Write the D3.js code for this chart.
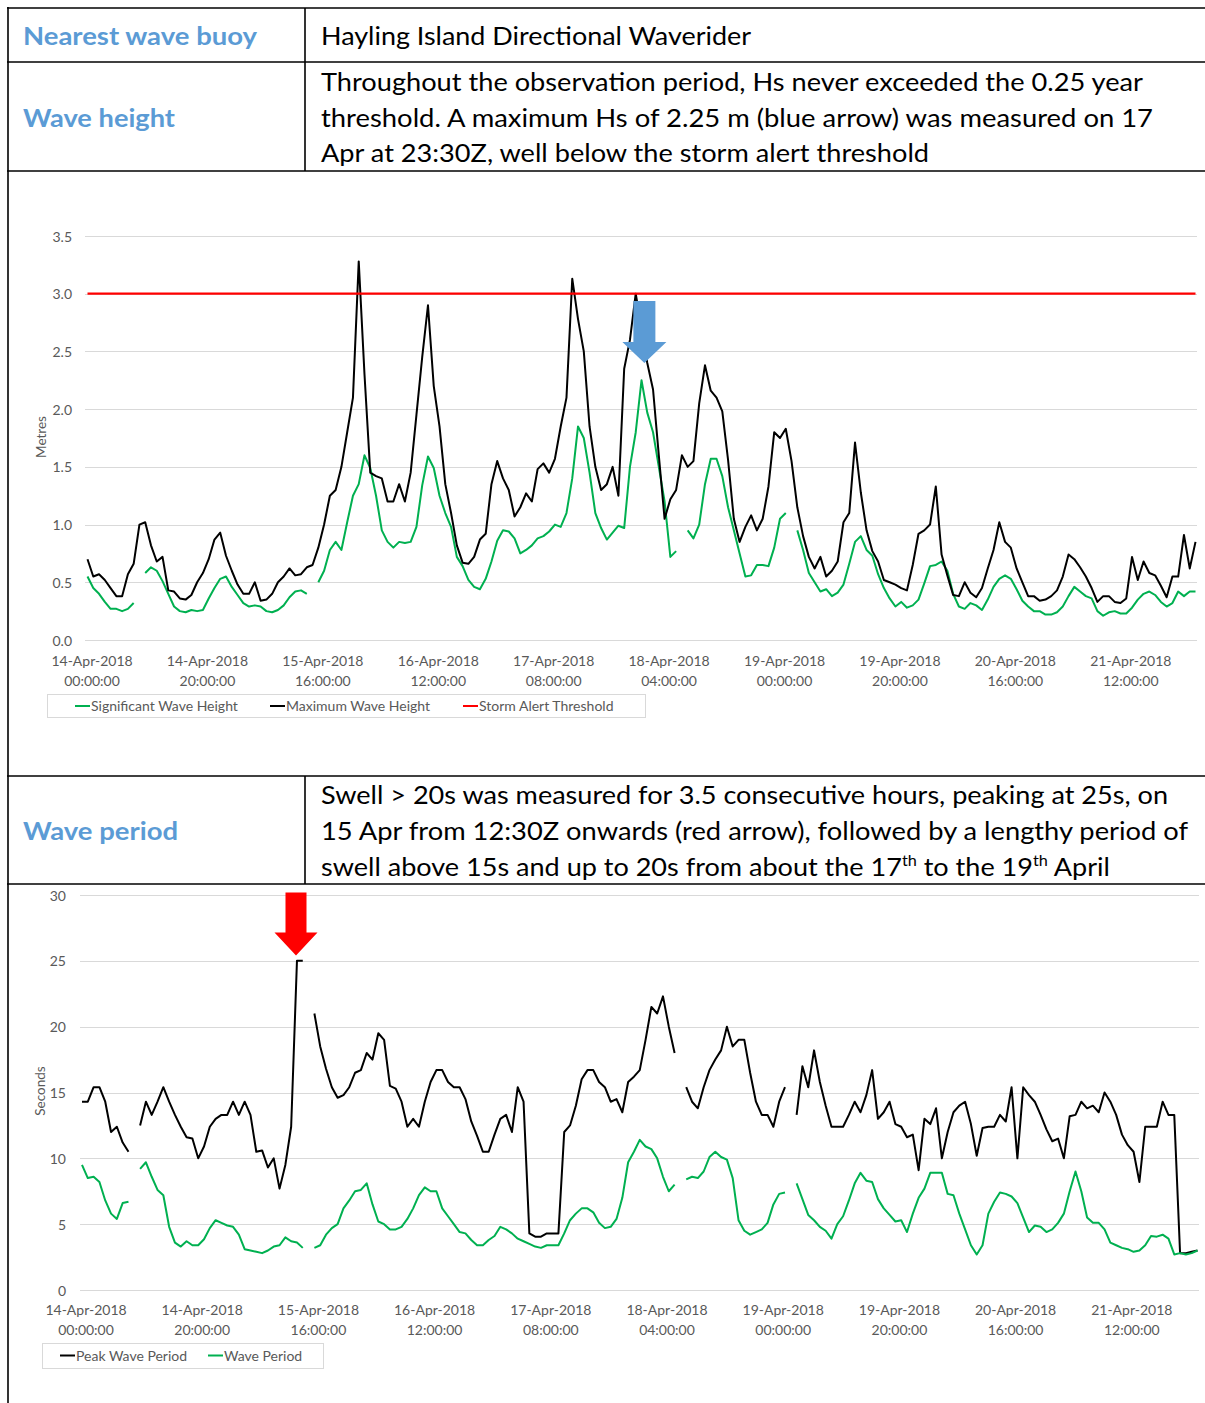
<!DOCTYPE html>
<html>
<head>
<meta charset="utf-8">
<title>Hayling Island Directional Waverider</title>
<script src="https://cdn.jsdelivr.net/npm/d3@7"></script>
<style>
  html, body { margin: 0; padding: 0; background: #ffffff; }
  svg { display: block; }
</style>
</head>
<body>
<svg id="page" width="1205" height="1403"></svg>
<script>
// ---- Buoy record: hourly samples from 14-Apr-2018 00:00 UTC (null = no data) ----
const startTime = "2018-04-14T00:00:00Z";

// Significant wave height, metres
const sigWaveHeight = [
  0.55,0.45,0.40,0.33,0.27,0.27,0.25,0.27,0.32,null,
  0.58,0.63,0.60,0.51,0.40,0.29,0.25,0.24,0.26,0.25,
  0.26,0.36,0.45,0.53,0.55,0.46,0.39,0.32,0.29,0.30,
  0.29,0.25,0.24,0.26,0.30,0.37,0.42,0.43,0.40,null,
  0.50,0.60,0.78,0.85,0.78,1.02,1.25,1.35,1.60,1.49,
  1.25,0.95,0.85,0.80,0.85,0.84,0.85,0.98,1.34,1.59,
  1.49,1.25,1.10,0.98,0.72,0.64,0.52,0.46,0.44,0.53,
  0.68,0.86,0.95,0.94,0.88,0.75,0.78,0.82,0.88,0.90,
  0.94,1.00,0.98,1.10,1.40,1.85,1.75,1.45,1.10,0.97,
  0.87,0.93,0.99,0.97,1.50,1.80,2.25,1.97,1.80,1.50,
  1.20,0.72,0.77,null,0.95,0.88,1.00,1.35,1.57,1.57,
  1.42,1.15,0.95,0.75,0.55,0.56,0.65,0.65,0.64,0.80,
  1.05,1.10,null,0.95,0.78,0.58,0.50,0.42,0.44,0.38,
  0.41,0.48,0.66,0.85,0.90,0.78,0.73,0.57,0.45,0.36,
  0.29,0.33,0.28,0.30,0.35,0.49,0.64,0.65,0.68,0.60,
  0.40,0.29,0.27,0.32,0.30,0.26,0.35,0.46,0.53,0.56,
  0.53,0.44,0.34,0.29,0.25,0.25,0.22,0.22,0.24,0.29,
  0.38,0.46,0.42,0.38,0.36,0.25,0.21,0.24,0.25,0.23,
  0.23,0.28,0.35,0.40,0.42,0.39,0.33,0.29,0.32,0.42,
  0.38,0.42,0.42
];

// Maximum wave height, metres
const maxWaveHeight = [
  0.70,0.55,0.57,0.52,0.45,0.38,0.38,0.57,0.66,1.00,
  1.02,0.82,0.68,0.72,0.43,0.42,0.36,0.35,0.39,0.50,
  0.58,0.70,0.87,0.93,0.73,0.60,0.48,0.40,0.40,0.50,
  0.34,0.35,0.40,0.50,0.55,0.62,0.56,0.57,0.63,0.65,
  0.80,1.00,1.25,1.30,1.50,1.80,2.10,3.28,2.30,1.45,
  1.42,1.40,1.20,1.20,1.35,1.20,1.45,1.95,2.45,2.90,
  2.20,1.85,1.35,1.10,0.82,0.67,0.66,0.72,0.87,0.92,
  1.35,1.55,1.40,1.30,1.07,1.15,1.27,1.20,1.48,1.53,
  1.45,1.57,1.85,2.10,3.13,2.78,2.50,1.85,1.50,1.30,
  1.35,1.50,1.25,2.35,2.60,3.00,2.70,2.40,2.17,1.60,
  1.05,1.22,1.30,1.60,1.50,1.55,2.05,2.38,2.16,2.10,
  1.98,1.56,1.05,0.85,0.98,1.08,0.95,1.05,1.33,1.80,
  1.75,1.83,1.55,1.15,0.90,0.72,0.62,0.72,0.55,0.60,
  0.68,1.02,1.10,1.71,1.28,0.95,0.77,0.68,0.52,0.50,
  0.48,0.45,0.43,0.65,0.92,0.95,1.00,1.33,0.74,0.56,
  0.39,0.38,0.50,0.41,0.37,0.45,0.62,0.78,1.02,0.85,
  0.80,0.62,0.50,0.38,0.38,0.34,0.35,0.38,0.43,0.55,
  0.74,0.70,0.63,0.55,0.45,0.33,0.38,0.38,0.33,0.32,
  0.36,0.72,0.52,0.68,0.58,0.56,0.47,0.37,0.55,0.55,
  0.91,0.62,0.85
];

// Storm alert threshold, metres
const stormAlertThreshold = 3.0;

// Peak wave period, seconds
const peakWavePeriod = [
  14.3,14.3,15.4,15.4,14.3,12.0,12.4,11.2,10.5,null,
  12.5,14.3,13.3,14.3,15.4,14.3,13.3,12.4,11.6,11.5,
  10.0,10.9,12.4,13.0,13.3,13.3,14.3,13.3,14.3,13.3,
  10.5,10.6,9.3,10.0,7.7,9.5,12.4,25.0,25.0,null,
  21.0,18.5,16.8,15.4,14.6,14.8,15.4,16.5,16.7,18.0,
  17.5,19.5,19.0,15.5,15.3,14.3,12.4,13.0,12.4,14.3,
  15.8,16.7,16.7,15.8,15.4,15.4,14.5,12.8,11.7,10.5,
  10.5,11.8,13.0,13.3,12.0,15.4,14.3,4.3,4.05,4.05,
  4.3,4.3,4.3,12.0,12.5,14.0,16.0,16.7,16.7,15.8,
  15.4,14.3,14.5,13.5,15.8,16.2,16.7,19.0,21.5,21.0,
  22.3,20.0,18.0,null,15.4,14.3,13.8,15.4,16.7,17.5,
  18.2,20.0,18.5,19.0,19.0,16.5,14.3,13.3,13.3,12.4,
  14.3,15.4,null,13.3,17.0,15.4,18.2,15.8,14.0,12.4,
  12.4,12.4,13.3,14.3,13.5,14.8,16.7,13.0,13.5,14.3,
  12.6,12.4,11.6,11.8,9.1,13.0,12.6,13.8,10.0,12.0,
  13.5,14.0,14.3,12.6,10.2,12.3,12.4,12.4,13.3,12.8,
  15.4,10.0,15.4,14.8,14.3,13.3,12.2,11.3,11.5,10.0,
  13.2,13.3,14.3,13.8,14.0,13.5,15.0,14.3,13.3,11.8,
  11.0,10.5,8.2,12.4,12.4,12.4,14.3,13.3,13.3,2.8,
  2.8,2.9,3.0
];

// Mean wave period, seconds
const wavePeriod = [
  9.5,8.5,8.6,8.2,6.8,5.8,5.4,6.6,6.7,null,
  9.2,9.7,8.6,7.6,7.2,4.8,3.6,3.3,3.7,3.4,
  3.4,3.85,4.7,5.3,5.1,4.9,4.8,4.2,3.1,3.0,
  2.9,2.8,3.0,3.3,3.4,4.0,3.7,3.6,3.2,null,
  3.2,3.4,4.2,4.7,5.0,6.2,6.8,7.5,7.6,8.1,
  6.5,5.2,5.0,4.6,4.6,4.8,5.4,6.2,7.2,7.8,
  7.5,7.5,6.2,5.6,5.0,4.4,4.3,3.8,3.4,3.4,
  3.8,4.1,4.8,4.6,4.3,3.9,3.7,3.5,3.3,3.2,
  3.4,3.4,3.4,4.3,5.3,5.8,6.2,6.2,5.9,5.1,
  4.7,4.8,5.4,7.0,9.7,10.5,11.4,10.9,10.7,10.0,
  8.6,7.5,8.0,null,8.4,8.6,8.5,9.0,10.1,10.5,
  10.1,9.9,8.5,5.3,4.5,4.2,4.4,4.6,5.1,6.5,
  7.3,7.4,null,8.1,6.9,5.7,5.3,4.8,4.5,3.9,
  5.0,5.6,6.8,8.1,8.9,8.3,8.2,6.9,6.2,5.7,
  5.2,5.3,4.4,5.8,7.0,7.7,8.9,8.9,8.9,7.3,
  7.2,5.8,4.6,3.4,2.7,3.4,5.8,6.7,7.4,7.3,
  7.1,6.6,5.5,4.4,4.9,4.8,4.4,4.6,5.1,5.8,
  7.5,9.0,7.5,5.5,5.1,5.1,4.6,3.6,3.4,3.2,
  3.1,2.9,3.0,3.4,4.1,4.05,4.2,3.9,2.7,2.8,
  2.7,2.8,3.0
];

// Axis ticks
const timeTicks = [
  "2018-04-14T00:00:00Z","2018-04-14T20:00:00Z","2018-04-15T16:00:00Z",
  "2018-04-16T12:00:00Z","2018-04-17T08:00:00Z","2018-04-18T04:00:00Z",
  "2018-04-19T00:00:00Z","2018-04-19T20:00:00Z","2018-04-20T16:00:00Z",
  "2018-04-21T12:00:00Z"
];
const heightTicks = [0, 0.5, 1.0, 1.5, 2.0, 2.5, 3.0, 3.5];
const periodTicks = [0, 5, 10, 15, 20, 25, 30];

// Annotated events
const hsPeakMarker = { time: "2018-04-18T00:30:00Z", value: 2.4 };
const swellPeakMarker = { time: "2018-04-15T12:50:00Z", value: 25.4 };

// ---- Drawing ----
const FONT = "Lato, 'Open Sans', 'DejaVu Sans', sans-serif";
const GREEN = "#00B050", BLACK = "#000000", RED = "#FF0000";
const LABEL_BLUE = "#5B9BD5", AXIS_GREY = "#595959", GRID = "#d9d9d9";

const parseT = d3.utcParse("%Y-%m-%dT%H:%M:%SZ");
const t0 = parseT(startTime);
const asSeries = arr => arr.map((v, i) => ({ t: d3.utcHour.offset(t0, i), v }));
const tEnd = d3.utcHour.offset(t0, sigWaveHeight.length - 1);
const fmtDate = d3.utcFormat("%d-%b-%Y");
const fmtClock = d3.utcFormat("%H:%M:%S");

const svg = d3.select("#page");
svg.append("rect").attr("width", 1205).attr("height", 1403).attr("fill", "#fff");

// ---- Table frame and text ----
const frame = svg.append("g").attr("stroke", "#000").attr("stroke-width", 1.6);
[8, 62, 171, 776, 884].forEach(y =>
  frame.append("line").attr("x1", 7).attr("x2", 1205).attr("y1", y).attr("y2", y));
frame.append("line").attr("x1", 8).attr("x2", 8).attr("y1", 7).attr("y2", 1403);
frame.append("line").attr("x1", 305).attr("x2", 305).attr("y1", 8).attr("y2", 171);
frame.append("line").attr("x1", 305).attr("x2", 305).attr("y1", 776).attr("y2", 884);

function cellText(x, y, str, width, opts = {}) {
  const t = svg.append("text")
    .attr("x", x).attr("y", y)
    .attr("font-family", FONT)
    .attr("font-size", opts.size || 25)
    .attr("font-weight", opts.bold ? 700 : 400)
    .attr("fill", opts.color || "#000")
    .attr("textLength", width)
    .attr("lengthAdjust", "spacingAndGlyphs");
  if (Array.isArray(str)) {
    // plain runs and raised ordinal suffixes
    let pendingDrop = 0;
    str.forEach(part => {
      if (typeof part === "string") {
        const run = t.append("tspan").text(part);
        if (pendingDrop) { run.attr("dy", pendingDrop); pendingDrop = 0; }
      } else {
        t.append("tspan").attr("dy", -10).attr("font-size", 15).text(part.sup);
        pendingDrop = 10;
      }
    });
  } else t.text(str);
  return t;
}

cellText(23, 45, "Nearest wave buoy", 234, { bold: true, color: LABEL_BLUE });
cellText(321, 45, "Hayling Island Directional Waverider", 430);

cellText(23, 127, "Wave height", 152, { bold: true, color: LABEL_BLUE });
cellText(321, 91, "Throughout the observation period, Hs never exceeded the 0.25 year", 822);
cellText(321, 127, "threshold. A maximum Hs of 2.25 m (blue arrow) was measured on 17", 832);
cellText(321, 162, "Apr at 23:30Z, well below the storm alert threshold", 608);

cellText(23, 840, "Wave period", 155, { bold: true, color: LABEL_BLUE });
cellText(321, 804, "Swell > 20s was measured for 3.5 consecutive hours, peaking at 25s, on", 847);
cellText(321, 840, "15 Apr from 12:30Z onwards (red arrow), followed by a lengthy period of", 867);
cellText(321, 876, ["swell above 15s and up to 20s from about the 17", { sup: "th" },
                    " to the 19", { sup: "th" }, " April"], 789);

// ---- Shared chart helpers ----
function gridAndYAxis(g, y, ticks, fmt, x0, x1, labelX) {
  g.append("g").selectAll("line").data(ticks).join("line")
    .attr("x1", x0).attr("x2", x1)
    .attr("y1", d => Math.round(y(d)) + 0.5).attr("y2", d => Math.round(y(d)) + 0.5)
    .attr("stroke", GRID).attr("stroke-width", 1);
  const ax = g.append("g").attr("transform", `translate(${labelX},0)`)
    .call(d3.axisLeft(y).tickValues(ticks).tickFormat(fmt).tickSize(0).tickPadding(0));
  ax.select(".domain").remove();
  ax.attr("font-family", FONT).attr("font-size", 14);
  ax.selectAll(".tick text").attr("fill", AXIS_GREY).attr("dy", "0.36em");
}

function timeAxis(g, x, baseline, shift) {
  const ax = g.append("g").attr("transform", `translate(${shift},${baseline})`)
    .call(d3.axisBottom(x).tickValues(timeTicks.map(parseT)).tickSize(0).tickFormat(""));
  ax.select(".domain").remove();
  ax.attr("font-family", FONT).attr("font-size", 14);
  ax.selectAll(".tick text").each(function (d) {
    const t = d3.select(this).attr("y", 0).attr("dy", null).attr("fill", AXIS_GREY);
    t.append("tspan").attr("x", 0).attr("y", 0).text(fmtDate(d));
    t.append("tspan").attr("x", 0).attr("y", 19.5).text(fmtClock(d));
  });
}

function yTitle(g, x, y, str) {
  g.append("text").attr("transform", `translate(${x},${y}) rotate(-90)`)
    .attr("text-anchor", "middle").attr("font-family", FONT).attr("font-size", 13.5)
    .attr("fill", AXIS_GREY).text(str);
}

function drawSeries(g, x, y, values, color, width) {
  const line = d3.line().defined(d => d.v != null).x(d => x(d.t)).y(d => y(d.v));
  g.append("path").datum(asSeries(values)).attr("d", line)
    .attr("fill", "none").attr("stroke", color).attr("stroke-width", width)
    .attr("stroke-linejoin", "round").attr("stroke-linecap", "butt");
}

function legend(g, box, items, cy) {
  g.append("rect").attr("x", box.x + 0.5).attr("y", box.y + 0.5)
    .attr("width", box.w).attr("height", box.h)
    .attr("fill", "#fff").attr("stroke", GRID).attr("stroke-width", 1);
  items.forEach(it => {
    g.append("line").attr("x1", it.x).attr("x2", it.x + 15).attr("y1", cy).attr("y2", cy)
      .attr("stroke", it.color).attr("stroke-width", 2);
    g.append("text").attr("x", it.x + 16).attr("y", cy + 5)
      .attr("font-family", FONT).attr("font-size", 14).attr("fill", AXIS_GREY).text(it.name);
  });
}

function downArrow(g, tipX, tipY, bodyHalf, headHalf, headLen, totalLen, color) {
  const pts = [
    [tipX - bodyHalf, tipY - totalLen], [tipX + bodyHalf, tipY - totalLen],
    [tipX + bodyHalf, tipY - headLen], [tipX + headHalf, tipY - headLen],
    [tipX, tipY],
    [tipX - headHalf, tipY - headLen], [tipX - bodyHalf, tipY - headLen]
  ];
  g.append("path").attr("d", "M" + pts.map(p => p.join(",")).join("L") + "Z").attr("fill", color);
}

// ---- Wave height chart ----
const gH = svg.append("g");
const xH = d3.scaleUtc().domain([t0, tEnd]).range([87.5, 1195.5]);
const yH = d3.scaleLinear().domain([0, 3.5]).range([640, 236]);

gridAndYAxis(gH, yH, heightTicks, d3.format(".1f"), 85, 1197, 72);
timeAxis(gH, xH, 666, 4);
yTitle(gH, 46, 437, "Metres");

drawSeries(gH, xH, yH, sigWaveHeight, GREEN, 2);
drawSeries(gH, xH, yH, maxWaveHeight, BLACK, 2);
gH.append("line")
  .attr("x1", xH(t0)).attr("x2", xH(tEnd))
  .attr("y1", yH(stormAlertThreshold)).attr("y2", yH(stormAlertThreshold))
  .attr("stroke", RED).attr("stroke-width", 2.2);

downArrow(gH, xH(parseT(hsPeakMarker.time)), yH(hsPeakMarker.value), 11, 22, 21, 62, LABEL_BLUE);

legend(gH, { x: 47, y: 694, w: 598, h: 23 }, [
  { name: "Significant Wave Height", color: GREEN, x: 75 },
  { name: "Maximum Wave Height", color: BLACK, x: 270 },
  { name: "Storm Alert Threshold", color: RED, x: 463 }
], 706);

// ---- Wave period chart ----
const gP = svg.append("g");
const xP = d3.scaleUtc().domain([t0, tEnd]).range([82, 1197.5]);
const yP = d3.scaleLinear().domain([0, 30]).range([1290, 895]);

gridAndYAxis(gP, yP, periodTicks, d3.format("d"), 80, 1199, 66);
timeAxis(gP, xP, 1315, 3.5);
yTitle(gP, 45, 1091, "Seconds");

drawSeries(gP, xP, yP, peakWavePeriod, BLACK, 2);
drawSeries(gP, xP, yP, wavePeriod, GREEN, 2);

downArrow(gP, xP(parseT(swellPeakMarker.time)), yP(swellPeakMarker.value), 10.5, 21.5, 23, 63, RED);

legend(gP, { x: 42, y: 1343, w: 281, h: 25 }, [
  { name: "Peak Wave Period", color: BLACK, x: 60 },
  { name: "Wave Period", color: GREEN, x: 208 }
], 1355.5);
</script>
</body>
</html>
